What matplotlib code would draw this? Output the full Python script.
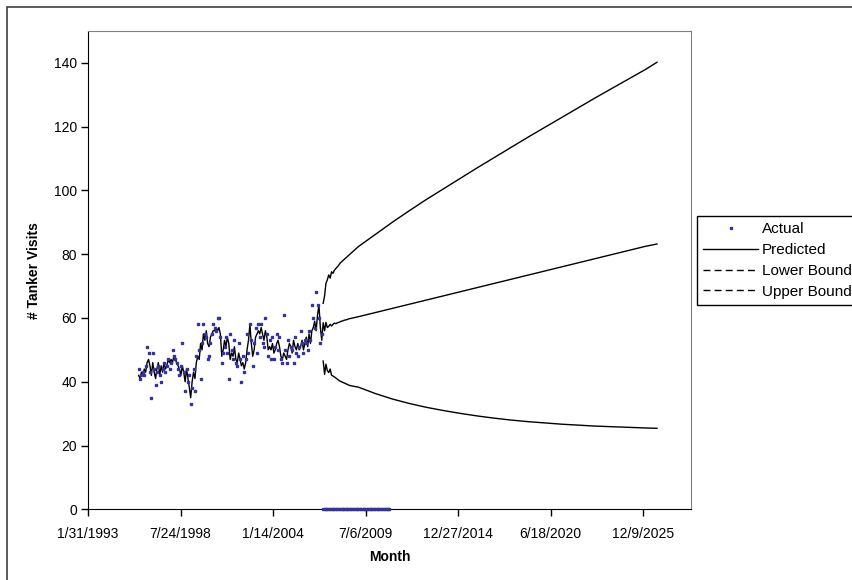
import matplotlib
matplotlib.use('Agg')
import matplotlib.pyplot as plt
import pandas as pd
from matplotlib.lines import Line2D
from matplotlib.patches import Rectangle

plt.rcParams['font.family'] = ['Liberation Sans', 'DejaVu Sans']

# observed monthly tanker visits, Jan 1996 - Nov 2006
actual_dates = pd.date_range('1996-01-31', periods=131, freq='ME')
actual = [44, 41, 42, 43, 42, 45, 51, 49, 43, 35,
          49, 44, 39, 43, 45, 42, 40, 44, 46, 43,
          45, 47, 44, 46, 50, 48, 47, 46, 44, 42,
          45, 52, 43, 37, 44, 40, 42, 33, 38, 44,
          37, 48, 58, 50, 41, 52, 58, 55, 54, 47,
          48, 52, 55, 58, 57, 56, 60, 60, 54, 46,
          49, 51, 54, 49, 41, 55, 50, 47, 53, 46,
          45, 52, 47, 40, 48, 43, 47, 55, 49, 58,
          53, 45, 52, 57, 49, 58, 54, 58, 52, 51,
          60, 55, 48, 53, 47, 54, 47, 51, 55, 50,
          54, 47, 46, 61, 50, 46, 53, 48, 51, 50,
          46, 54, 49, 48, 51, 56, 52, 49, 53, 52,
          50, 56, 53, 64, 60, 57, 68, 64, 60, 52, 55]

# model fit over the same months
fitted = [42, 41, 43, 42, 44, 43, 46, 47,
          45, 42, 46, 43, 41, 44, 46, 42, 45, 43, 46, 44, 45, 47, 46,
          47, 46, 48, 47, 46, 45,
          44, 42, 45, 43, 40, 44, 41, 38, 35,
          40, 43, 41, 46, 48, 47, 52, 50, 55, 53,
          56, 52, 51, 54, 55, 56, 56, 57, 56, 57, 55,
          48, 50, 53, 51, 54, 52, 47,
          49, 48, 51, 47, 46, 49, 47, 45, 46, 44,
          46, 50, 53, 58, 52, 48, 50, 54, 55, 56,
          55, 57, 55, 53, 56, 54, 50, 51, 50, 52, 49, 50, 52, 53, 51,
          48, 47, 49, 48, 47, 50, 52, 51, 49, 53, 51, 50, 52, 50, 51,
          53, 50, 52, 54, 51, 55, 52, 56, 57, 59, 56, 61, 64, 57, 53]

# months with no observation (plotted as 0 in the sheet)
gap_dates = pd.date_range('2006-12-31', '2010-11-30', freq='ME')
gap_values = [0] * len(gap_dates)

# forecast: monthly at first, then yearly
fc_month_dates = pd.date_range('2006-12-31', periods=20, freq='ME')
fc_pred_m = [58.5, 56, 58.6, 57, 57.4, 58, 57.5, 58, 58.4, 58.2,
             58.5, 58.6, 58.8, 59, 59.1, 59.3, 59.4, 59.5, 59.7, 59.8]
fc_upper_m = [64.6, 67, 70.8, 72, 73.5, 72.5, 74.5, 74, 75, 75.5,
              76, 76.5, 77.2, 77.6, 78, 78.4, 78.8, 79.2, 79.6, 80]
fc_lower_m = [46.5, 42.3, 45.5, 43.5, 42.9, 44, 42, 41.8, 41.5, 41.2,
              40.8, 40.5, 40.2, 40, 39.8, 39.6, 39.4, 39.2, 39, 38.8]

fc_year_dates = pd.to_datetime(['2009-01-31', '2010-01-31', '2011-01-31', '2012-01-31',
                                '2013-01-31', '2014-01-31', '2015-01-31', '2016-01-31',
                                '2017-01-31', '2018-01-31', '2019-01-31', '2020-01-31',
                                '2021-01-31', '2022-01-31', '2023-01-31', '2024-01-31',
                                '2025-01-31', '2026-01-31', '2026-09-30'])
fc_pred_y = [60.4, 61.7, 63, 64.3, 65.6, 66.9, 68.2, 69.5, 70.8, 72.1,
             73.4, 74.7, 76, 77.3, 78.6, 79.9, 81.2, 82.5, 83.2]
fc_upper_y = [82.4, 86.2, 90, 93.6, 97.1, 100.4, 103.7, 107, 110.2, 113.4,
              116.6, 119.7, 122.8, 125.9, 129, 132, 135, 138, 140.2]
fc_lower_y = [38.3, 36.3, 34.6, 33.2, 32, 31, 30.1, 29.3, 28.6, 28,
              27.5, 27.1, 26.7, 26.4, 26.1, 25.9, 25.7, 25.5, 25.4]

pred_dates = list(actual_dates) + list(fc_month_dates) + list(fc_year_dates)
pred_values = fitted + fc_pred_m + fc_pred_y
bound_dates = list(fc_month_dates) + list(fc_year_dates)
upper_values = fc_upper_m + fc_upper_y
lower_values = fc_lower_m + fc_lower_y

navy = '#333399'
msize = 1.7

fig = plt.figure(figsize=(8.52, 5.8), dpi=100)
ax = fig.add_axes([88 / 852, 1 - 509.3 / 580, (691 - 88) / 852, (509.3 - 31) / 580])

ax.plot(actual_dates, actual, linestyle='none', marker='s', markersize=msize,
        color=navy, zorder=3)
ax.plot(gap_dates, gap_values, linestyle='none', marker='s', markersize=msize,
        color=navy, zorder=3, clip_on=False)
ax.plot(pred_dates, pred_values, color='black', lw=1.0)
ax.plot(bound_dates, lower_values, color='black', lw=1.0)
ax.plot(bound_dates, upper_values, color='black', lw=1.0)

start = pd.Timestamp('1993-01-31')
ticks = [start + pd.Timedelta(days=2000 * k) for k in range(7)]
ax.set_xlim(start, start + pd.Timedelta(days=13030))
ax.set_xticks(ticks)
ax.set_xticklabels([f'{d.month}/{d.day}/{d.year}' for d in ticks])
ax.set_ylim(0, 150)
ax.set_yticks(range(0, 141, 20))

ax.tick_params(direction='out', length=5, width=1, labelsize=10, colors='black')
ax.tick_params(axis='x', pad=8)
ax.tick_params(axis='y', pad=3)
for side in ['top', 'right']:
    ax.spines[side].set_color('#808080')
for side in ['left', 'bottom']:
    ax.spines[side].set_color('black')

ax.set_xlabel('Month', fontsize=10, fontweight='bold', labelpad=6)
ax.set_ylabel('# Tanker Visits', fontsize=10, fontweight='bold', labelpad=9)

handles = [Line2D([], [], linestyle='none', marker='s', markersize=msize, color=navy),
           Line2D([], [], color='black', lw=1.0),
           Line2D([], [], color='black', lw=1.0, dashes=(5, 3)),
           Line2D([], [], color='black', lw=1.0, dashes=(5, 3))]
labels = ['Actual', 'Predicted', 'Lower Bound', 'Upper Bound']
fig.legend(handles, labels, loc='upper left', bbox_to_anchor=(697 / 852, 1 - 216 / 580),
           fontsize=11, frameon=True, fancybox=False, framealpha=1, edgecolor='black',
           handlelength=3.6, handletextpad=0.25, borderpad=0.4, labelspacing=0.45,
           borderaxespad=0)

fig.patches.append(Rectangle((7 / 852, -0.05), 1.1, 1 - 7 / 580 + 0.05,
                             transform=fig.transFigure, fill=False,
                             edgecolor='#404040', lw=1.2))

fig.savefig('out.png', dpi=100)
